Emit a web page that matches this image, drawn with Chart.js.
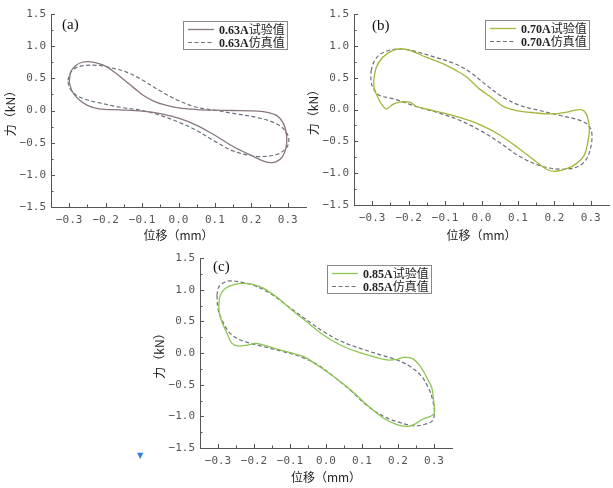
<!DOCTYPE html>
<html><head><meta charset="utf-8">
<script src="https://cdn.jsdelivr.net/npm/chart.js@4.4.1/dist/chart.umd.min.js"></script>
<style>
html,body{margin:0;padding:0;background:#fff;width:613px;height:488px;overflow:hidden;}
canvas{position:absolute;}
#ca{left:0;top:0;} #cb{left:303px;top:0;} #cc{left:149px;top:245px;}
#mark{position:absolute;left:137px;top:451px;color:#2f7de1;font-size:8px;font-family:'DejaVu Sans';}
</style></head><body>
<canvas id="ca" width="310" height="245"></canvas>
<canvas id="cb" width="310" height="245"></canvas>
<canvas id="cc" width="310" height="243"></canvas>
<div id="mark">▼</div>
<script>
// ---- tick labels ----
const xTickValues = [-0.3, -0.2, -0.1, 0.0, 0.1, 0.2, 0.3];
const yTickValues = [-1.5, -1.0, -0.5, 0.0, 0.5, 1.0, 1.5];
const xMinorValues = [-0.25, -0.15, -0.05, 0.05, 0.15, 0.25];
const yMinorValues = [-1.25, -0.75, -0.25, 0.25, 0.75, 1.25];

// ---- legend labels ----
const seriesNames = {
  a: ['0.63A试验值', '0.63A仿真值'],
  b: ['0.70A试验值', '0.70A仿真值'],
  c: ['0.85A试验值', '0.85A仿真值']
};

// ---- (a) 0.63A ----
const aExpX = [-0.300,-0.296,-0.282,-0.264,-0.246,-0.225,-0.200,-0.170,-0.144,-0.120,-0.098,-0.070,-0.040,0.000,0.050,0.100,0.150,0.200,0.240,0.270,0.288,0.297,0.295,0.285,0.270,0.256,0.235,0.200,0.150,0.095,0.050,0.000,-0.050,-0.100,-0.160,-0.218,-0.250,-0.275,-0.292,-0.300];
const aExpY = [0.44,0.60,0.70,0.75,0.76,0.74,0.69,0.57,0.45,0.34,0.24,0.15,0.09,0.04,0.015,0.005,0.0,-0.005,-0.025,-0.08,-0.20,-0.40,-0.58,-0.72,-0.79,-0.81,-0.79,-0.70,-0.56,-0.37,-0.23,-0.12,-0.05,-0.01,0.01,0.025,0.08,0.18,0.30,0.44];
const aSimX = [-0.304,-0.295,-0.280,-0.255,-0.218,-0.190,-0.144,-0.098,-0.052,0.000,0.050,0.104,0.150,0.224,0.270,0.295,0.303,0.295,0.272,0.233,0.198,0.150,0.100,0.050,0.000,-0.052,-0.098,-0.154,-0.218,-0.264,-0.288,-0.300,-0.304];
const aSimY = [0.47,0.60,0.67,0.70,0.70,0.67,0.60,0.47,0.31,0.155,0.05,0.0,-0.045,-0.12,-0.21,-0.33,-0.47,-0.59,-0.68,-0.715,-0.70,-0.63,-0.48,-0.31,-0.18,-0.07,0.0,0.045,0.12,0.19,0.27,0.37,0.47];

// ---- (b) 0.70A ----
const bExpX = [-0.296,-0.289,-0.271,-0.243,-0.220,-0.197,-0.151,-0.106,-0.069,-0.041,-0.005,0.032,0.060,0.096,0.142,0.197,0.234,0.261,0.280,0.291,0.296,0.291,0.282,0.261,0.234,0.206,0.183,0.150,0.100,0.050,0.000,-0.041,-0.087,-0.133,-0.179,-0.197,-0.225,-0.243,-0.261,-0.275,-0.287,-0.294,-0.296];
const bExpY = [0.455,0.66,0.82,0.93,0.95,0.93,0.82,0.72,0.61,0.51,0.32,0.17,0.05,-0.016,-0.05,-0.07,-0.04,-0.005,-0.016,-0.12,-0.33,-0.54,-0.72,-0.85,-0.93,-0.97,-0.95,-0.82,-0.60,-0.40,-0.25,-0.16,-0.08,-0.016,0.047,0.115,0.115,0.08,0.01,0.09,0.22,0.32,0.455];
const bSimX = [-0.303,-0.296,-0.280,-0.252,-0.225,-0.188,-0.133,-0.078,-0.032,0.014,0.060,0.106,0.160,0.216,0.270,0.294,0.303,0.300,0.289,0.270,0.243,0.197,0.150,0.100,0.050,0.000,-0.060,-0.115,-0.179,-0.243,-0.280,-0.294,-0.303,-0.303];
const bSimY = [0.61,0.74,0.86,0.93,0.95,0.92,0.83,0.73,0.59,0.38,0.19,0.063,-0.016,-0.094,-0.17,-0.25,-0.38,-0.59,-0.77,-0.88,-0.93,-0.93,-0.86,-0.72,-0.52,-0.34,-0.17,-0.058,0.047,0.17,0.22,0.30,0.43,0.61];

// ---- (c) 0.85A ----
const cExpX = [-0.298,-0.294,-0.280,-0.256,-0.229,-0.201,-0.173,-0.136,-0.099,-0.053,-0.006,0.040,0.086,0.132,0.169,0.197,0.216,0.239,0.262,0.281,0.294,0.299,0.301,0.290,0.267,0.244,0.225,0.197,0.160,0.114,0.068,0.021,-0.025,-0.062,-0.099,-0.136,-0.173,-0.196,-0.219,-0.243,-0.261,-0.275,-0.289,-0.296,-0.298];
const cExpY = [0.75,0.91,1.02,1.08,1.10,1.08,1.02,0.88,0.70,0.49,0.28,0.126,0.02,-0.058,-0.11,-0.10,-0.07,-0.084,-0.21,-0.40,-0.55,-0.76,-0.95,-1.0,-1.05,-1.13,-1.16,-1.13,-1.03,-0.82,-0.58,-0.37,-0.19,-0.058,0.005,0.063,0.126,0.152,0.126,0.11,0.152,0.31,0.49,0.62,0.75];
const cSimX = [-0.303,-0.298,-0.284,-0.266,-0.238,-0.201,-0.155,-0.099,-0.053,-0.006,0.040,0.095,0.151,0.197,0.234,0.262,0.285,0.297,0.301,0.294,0.271,0.244,0.206,0.160,0.114,0.068,0.021,-0.025,-0.071,-0.118,-0.173,-0.219,-0.247,-0.270,-0.289,-0.300,-0.303];
const cSimY = [0.91,1.04,1.11,1.14,1.12,1.07,0.94,0.71,0.52,0.335,0.19,0.073,-0.03,-0.11,-0.215,-0.345,-0.555,-0.76,-0.97,-1.08,-1.13,-1.15,-1.10,-1.0,-0.83,-0.59,-0.37,-0.18,-0.058,0.02,0.10,0.167,0.23,0.335,0.52,0.70,0.91];

const toPts = (xs, ys) => xs.map((x, i) => ({x: x, y: ys[i]}));
const fmt = v => { const r = Math.round(v * 10) / 10; const s = Math.abs(r).toFixed(1); return r < 0 ? '\u2212' + s : s; };

const decor = {
  id: 'decor',
  afterDraw(chart) {
    const o = chart.options.plugins.decor;
    const ctx = chart.ctx, xs = chart.scales.x, ys = chart.scales.y;
    const a = chart.chartArea;
    ctx.save();
    ctx.strokeStyle = '#555'; ctx.lineWidth = 1;
    ctx.beginPath();
    xTickValues.forEach(v => { const p = Math.round(xs.getPixelForValue(v)) + 0.5; ctx.moveTo(p, a.bottom); ctx.lineTo(p, a.bottom - 4); });
    xMinorValues.forEach(v => { const p = Math.round(xs.getPixelForValue(v)) + 0.5; ctx.moveTo(p, a.bottom); ctx.lineTo(p, a.bottom - 2.5); });
    yTickValues.forEach(v => { const p = Math.round(ys.getPixelForValue(v)) + 0.5; ctx.moveTo(a.left, p); ctx.lineTo(a.left + 4, p); });
    yMinorValues.forEach(v => { const p = Math.round(ys.getPixelForValue(v)) + 0.5; ctx.moveTo(a.left, p); ctx.lineTo(a.left + 2.5, p); });
    ctx.stroke();
    // panel label
    ctx.fillStyle = '#111';
    ctx.font = "15px 'Liberation Serif'";
    ctx.textBaseline = 'alphabetic';
    ctx.fillText(o.panel, o.panelX, o.panelY);
    // legend box
    const L = o.legend;
    ctx.strokeStyle = '#888'; ctx.lineWidth = 1;
    ctx.strokeRect(L.x + 0.5, L.y + 0.5, L.w, L.h);
    chart.data.datasets.forEach((ds, i) => {
      const yy = L.y + 8.5 + i * 13;
      ctx.beginPath();
      ctx.strokeStyle = ds.borderColor; ctx.lineWidth = ds.borderWidth;
      ctx.setLineDash(ds.borderDash || []);
      ctx.moveTo(L.x + 5, yy); ctx.lineTo(L.x + 31, yy); ctx.stroke();
      ctx.setLineDash([]);
      const name = ds.label;
      const head = name.slice(0, 5), tail = name.slice(5);
      ctx.fillStyle = '#222';
      ctx.textBaseline = 'middle';
      ctx.font = "bold 12px 'Liberation Serif'";
      ctx.fillText(head, L.x + 36, yy + 1);
      const w = ctx.measureText(head).width;
      ctx.font = "12px 'Noto Sans CJK SC'";
      ctx.fillText(tail, L.x + 36 + w, yy);
    });
    ctx.restore();
  }
};

function makeChart(id, names, expX, expY, simX, simY, expColor, cfg) {
  new Chart(document.getElementById(id), {
    type: 'scatter',
    data: {
      datasets: [
        { label: names[0], data: toPts(expX, expY), showLine: true, borderColor: expColor, borderWidth: 1.3, pointRadius: 0, tension: 0.35, fill: false },
        { label: names[1], data: toPts(simX, simY), showLine: true, borderColor: '#6c6f7e', borderWidth: 1.2, borderDash: [4, 2.5], pointRadius: 0, tension: 0.35, fill: false }
      ]
    },
    options: {
      responsive: false, animation: false, devicePixelRatio: 1,
      layout: { padding: { left: 0, right: cfg.padRight, top: cfg.padTop, bottom: 0 } },
      plugins: { legend: { display: false }, tooltip: { enabled: false },
        decor: { panel: cfg.panel, panelX: cfg.panelX, panelY: cfg.panelY, legend: cfg.legend } },
      scales: {
        x: {
          type: 'linear', min: -0.35, max: 0.35,
          afterBuildTicks: s => { s.ticks = xTickValues.map(v => ({ value: v })); },
          afterFit: s => { s.height = cfg.xHeight; },
          grid: { display: false, drawTicks: false },
          border: { display: true, color: '#555', width: 1 },
          ticks: { padding: 7, color: '#555', font: { family: "'DejaVu Sans Mono'", size: 11 }, callback: v => fmt(v), maxRotation: 0, autoSkip: false },
          title: { display: true, text: '位移（mm）', color: '#222', font: { family: "'Noto Sans CJK SC'", size: 12 }, padding: { top: 0, bottom: cfg.xTitlePad } }
        },
        y: {
          type: 'linear', min: -1.5, max: 1.5,
          afterBuildTicks: s => { s.ticks = yTickValues.map(v => ({ value: v })); },
          afterFit: s => { s.width = 51; },
          grid: { display: false, drawTicks: false },
          border: { display: true, color: '#555', width: 1 },
          ticks: { padding: 5, color: '#555', font: { family: "'DejaVu Sans Mono'", size: 11 }, callback: v => fmt(v), autoSkip: false },
          title: { display: true, text: '力（kN）', color: '#222', font: { family: "'Noto Sans CJK SC'", size: 12 }, padding: { top: 3, bottom: 0 } }
        }
      }
    },
    plugins: [decor]
  });
}

makeChart('ca', seriesNames.a, aExpX, aExpY, aSimX, aSimY, '#8a767f',
  { padRight: 4, padTop: 14, xHeight: 38, xTitlePad: 2, panel: '(a)', panelX: 62, panelY: 29, legend: { x: 183, y: 21, w: 104, h: 28 } });
makeChart('cb', seriesNames.b, bExpX, bExpY, bSimX, bSimY, '#a8b43a',
  { padRight: 4, padTop: 14, xHeight: 40, xTitlePad: 2, panel: '(b)', panelX: 69, panelY: 30, legend: { x: 182, y: 20, w: 104, h: 29 } });
makeChart('cc', seriesNames.c, cExpX, cExpY, cSimX, cSimY, '#8cc652',
  { padRight: 7, padTop: 13, xHeight: 40, xTitlePad: 3, panel: '(c)', panelX: 64, panelY: 26, legend: { x: 178, y: 20, w: 104, h: 28 } });
</script>
</body></html>
